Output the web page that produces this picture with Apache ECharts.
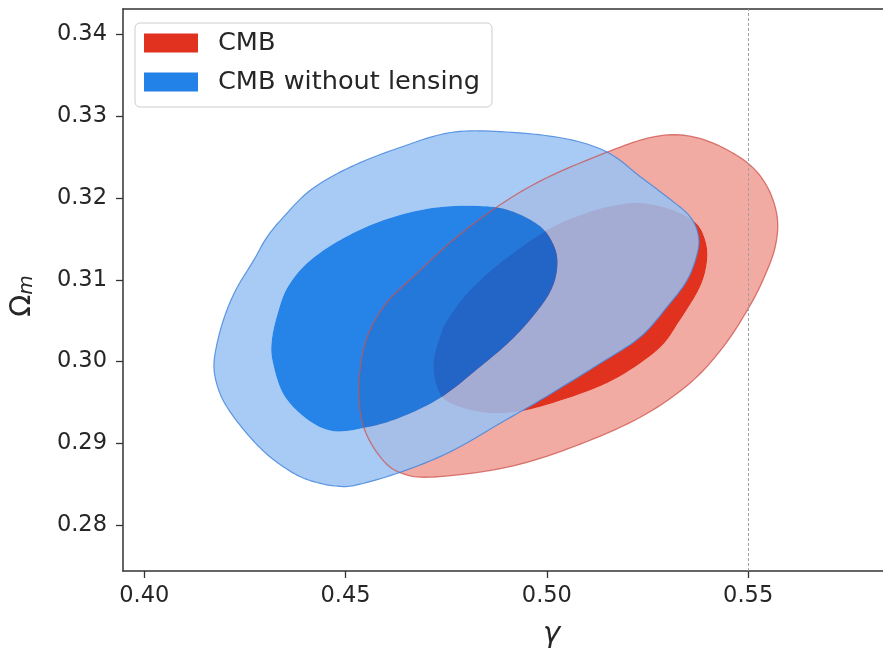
<!DOCTYPE html>
<html>
<head>
<meta charset="utf-8">
<script src="https://cdn.jsdelivr.net/npm/echarts@6/dist/echarts.min.js"></script>
<style>
html,body{margin:0;padding:0;background:#fff;}
#chart{width:883px;height:654px;}
</style>
</head>
<body>
<div id="chart"></div>
<script>
// ---- data (gamma, Omega_m) ----
const xTicks = [0.40, 0.45, 0.50, 0.55];
const yTicks = [0.28, 0.29, 0.30, 0.31, 0.32, 0.33, 0.34];
const refGamma = 0.55;
const seriesNames = ['CMB', 'CMB without lensing'];

// CMB (red) 95% contour
const cmbOuter = [
  [0.5331,0.3277],[0.5413,0.3267],[0.5498,0.3243],[0.5547,0.3214],[0.5572,0.3177],
  [0.5567,0.3140],[0.5537,0.3100],[0.5498,0.3063],[0.5438,0.3018],[0.5356,0.2974],
  [0.5232,0.2932],[0.5066,0.2896],[0.4902,0.2871],[0.4719,0.2859],[0.4637,0.2864],
  [0.4587,0.2883],[0.4545,0.2920],[0.4533,0.2965],[0.4543,0.3012],[0.4567,0.3045],
  [0.4607,0.3075],[0.4669,0.3104],[0.4768,0.3149],[0.4885,0.3192],[0.5001,0.3225],
  [0.5150,0.3256],[0.5250,0.3273]
];
// CMB (red) 68% contour
const cmbInner = [
  [0.5232,0.3194],[0.5314,0.3185],[0.5369,0.3170],[0.5393,0.3149],[0.5398,0.3124],
  [0.5381,0.3092],[0.5331,0.3051],[0.5274,0.3014],[0.5150,0.2974],[0.4984,0.2945],
  [0.4885,0.2937],[0.4810,0.2941],[0.4748,0.2953],[0.4724,0.2974],[0.4719,0.3002],
  [0.4736,0.3033],[0.4753,0.3051],[0.4803,0.3084],[0.4885,0.3121],[0.5001,0.3161],
  [0.5083,0.3179],[0.5158,0.3190]
];
// CMB without lensing (blue) 95% contour
const noLensOuter = [
  [0.4885,0.3281],[0.5041,0.3273],[0.5150,0.3256],[0.5232,0.3226],[0.5307,0.3198],
  [0.5356,0.3177],[0.5376,0.3155],[0.5374,0.3133],[0.5349,0.3100],[0.5299,0.3067],
  [0.5232,0.3030],[0.5133,0.2998],[0.4984,0.2953],[0.4885,0.2925],[0.4761,0.2890],
  [0.4637,0.2865],[0.4525,0.2849],[0.4476,0.2848],[0.4431,0.2852],[0.4389,0.2859],
  [0.4347,0.2871],[0.4302,0.2888],[0.4255,0.2912],[0.4210,0.2941],[0.4185,0.2965],
  [0.4173,0.2994],[0.4183,0.3027],[0.4203,0.3060],[0.4230,0.3090],[0.4272,0.3124],
  [0.4302,0.3150],[0.4339,0.3173],[0.4414,0.3210],[0.4513,0.3238],[0.4637,0.3262],
  [0.4761,0.3280]
];
// CMB without lensing (blue) 68% contour
const noLensInner = [
  [0.4843,0.3190],[0.4917,0.3183],[0.4984,0.3165],[0.5016,0.3143],[0.5026,0.3121],
  [0.5016,0.3094],[0.4984,0.3067],[0.4917,0.3029],[0.4835,0.2994],[0.4736,0.2956],
  [0.4637,0.2932],[0.4555,0.2920],[0.4471,0.2915],[0.4406,0.2929],[0.4347,0.2959],
  [0.4319,0.3000],[0.4317,0.3027],[0.4332,0.3060],[0.4356,0.3091],[0.4406,0.3121],
  [0.4488,0.3149],[0.4595,0.3173],[0.4719,0.3188]
];

// ---- rendering helpers (path smoothing in pixel space) ----
function smoothClosed(pts, n) {
  const out = [], L = pts.length;
  for (let i = 0; i < L; i++) {
    const p0 = pts[(i - 1 + L) % L], p1 = pts[i], p2 = pts[(i + 1) % L], p3 = pts[(i + 2) % L];
    for (let k = 0; k < n; k++) {
      const t = k / n, t2 = t * t, t3 = t2 * t;
      const f = (a, b, c, d) => 0.5 * (2 * b + (-a + c) * t + (2 * a - 5 * b + 4 * c - d) * t2 + (-a + 3 * b - 3 * c + d) * t3);
      out.push([f(p0[0], p1[0], p2[0], p3[0]), f(p0[1], p1[1], p2[1], p3[1])]);
    }
  }
  return out;
}
function signedArea(p) {
  let s = 0;
  for (let i = 0; i < p.length; i++) {
    const a = p[i], b = p[(i + 1) % p.length];
    s += a[0] * b[1] - b[0] * a[1];
  }
  return s;
}
function ringPoints(o, inn) {
  let i = inn.slice();
  if (Math.sign(signedArea(o)) === Math.sign(signedArea(i))) i.reverse();
  let best = 0, bd = Infinity;
  for (let k = 0; k < i.length; k++) {
    const d = (i[k][0] - o[0][0]) ** 2 + (i[k][1] - o[0][1]) ** 2;
    if (d < bd) { bd = d; best = k; }
  }
  i = i.slice(best).concat(i.slice(0, best));
  return o.concat([o[0]], i, [i[0]]);
}
function fillRenderer(outer, inner, outerColor, innerColor, opacity) {
  return function (params, api) {
    const o = smoothClosed(outer.map(p => api.coord(p)), 10);
    const i = smoothClosed(inner.map(p => api.coord(p)), 10);
    return {
      type: 'group',
      children: [
        { type: 'polygon', shape: { points: ringPoints(o, i) }, style: { fill: outerColor, opacity: opacity } },
        { type: 'polygon', shape: { points: i }, style: { fill: innerColor, opacity: opacity } }
      ]
    };
  };
}
function lineRenderer(outer, color, width) {
  return function (params, api) {
    const o = smoothClosed(outer.map(p => api.coord(p)), 10);
    return { type: 'polygon', shape: { points: o }, style: { fill: 'none', stroke: color, lineWidth: width } };
  };
}

const FONT = 'DejaVu Sans';
const X_MIN = 0.394716, X_MAX = 0.58349;
const chart = echarts.init(document.getElementById('chart'), null, { renderer: 'canvas' });
const option = {
  animation: false,
  backgroundColor: '#ffffff',
  grid: { left: 122, top: 9, right: 0, bottom: 83, show: false },
  xAxis: [{
    type: 'value', min: X_MIN, max: X_MAX, position: 'bottom',
    axisLine: { show: true, onZero: false, lineStyle: { color: '#333333', width: 1.5 } },
    splitLine: { show: false },
    axisTick: { show: true, length: 7, customValues: xTicks, lineStyle: { color: '#333', width: 1.3 } },
    axisLabel: {
      customValues: xTicks, margin: 14,
      formatter: v => v.toFixed(2),
      fontFamily: FONT, fontSize: 22.5, color: '#262626'
    }
  }, {
    type: 'value', min: X_MIN, max: X_MAX, position: 'top',
    axisLine: { show: true, onZero: false, lineStyle: { color: '#333333', width: 1.5 } },
    splitLine: { show: false }, axisTick: { show: false }, axisLabel: { show: false }
  }],
  yAxis: {
    type: 'value', min: 0.274415, max: 0.34309,
    name: '{o|Ω}{m|m}', nameLocation: 'middle', nameRotate: 90, nameGap: 86,
    nameTextStyle: {
      padding: [0, 12, 0, 0],
      rich: {
        o: { fontFamily: FONT, fontSize: 29, color: '#262626' },
        m: { fontFamily: FONT, fontSize: 20, fontStyle: 'italic', color: '#262626', verticalAlign: 'bottom' }
      }
    },
    axisLine: { show: true, onZero: false, lineStyle: { color: '#333333', width: 1.5 } },
    splitLine: { show: false },
    axisTick: { show: true, length: 7, customValues: yTicks, lineStyle: { color: '#333', width: 1.3 } },
    axisLabel: {
      customValues: yTicks, margin: 16,
      formatter: v => v.toFixed(2),
      fontFamily: FONT, fontSize: 22.5, color: '#262626'
    }
  },
  legend: {
    orient: 'vertical', left: 135, top: 23,
    padding: [5, 12, 10, 9],
    itemGap: 9, itemWidth: 54, itemHeight: 19,
    backgroundColor: 'rgba(255,255,255,0.85)',
    borderColor: '#cccccc', borderWidth: 1, borderRadius: 5,
    textStyle: { fontFamily: FONT, fontSize: 25.6, color: '#262626', lineHeight: 30, padding: [0, 0, 0, 15] },
    data: [
      { name: seriesNames[0], icon: 'rect', itemStyle: { color: '#e0321f', borderWidth: 0 } },
      { name: seriesNames[1], icon: 'rect', itemStyle: { color: '#2282e8', borderWidth: 0 } }
    ]
  },
  graphic: [
    { type: 'text', left: 543, top: 620, style: { text: 'γ', font: 'italic 29px "DejaVu Sans"', fill: '#262626' } }
  ],
  series: [
    {
      name: seriesNames[0], type: 'custom', coordinateSystem: 'cartesian2d', clip: true, z: 2,
      data: [0], itemStyle: { color: '#e0321f' },
      renderItem: fillRenderer(cmbOuter, cmbInner, '#f2aba3', '#e0321f', 1)
    },
    {
      name: seriesNames[1], type: 'custom', coordinateSystem: 'cartesian2d', clip: true, z: 3,
      data: [0], itemStyle: { color: '#2282e8' },
      renderItem: fillRenderer(noLensOuter, noLensInner, 'rgb(153,194,244)', 'rgb(0,110,228)', 0.85)
    },
    {
      name: seriesNames[0], type: 'custom', coordinateSystem: 'cartesian2d', clip: true, z: 4,
      data: [0], itemStyle: { color: '#e0321f' },
      renderItem: lineRenderer(cmbOuter, 'rgba(205,80,75,0.75)', 1.3),
      markLine: {
        silent: true, symbol: 'none', label: { show: false },
        lineStyle: { type: [3, 2], color: '#a0a0a0', width: 1 },
        data: [{ xAxis: refGamma }]
      }
    },
    {
      name: seriesNames[1], type: 'custom', coordinateSystem: 'cartesian2d', clip: true, z: 4,
      data: [0], itemStyle: { color: '#2282e8' },
      renderItem: lineRenderer(noLensOuter, 'rgba(70,135,220,0.85)', 1.2)
    }
  ]
};
chart.setOption(option);
</script>
</body>
</html>
